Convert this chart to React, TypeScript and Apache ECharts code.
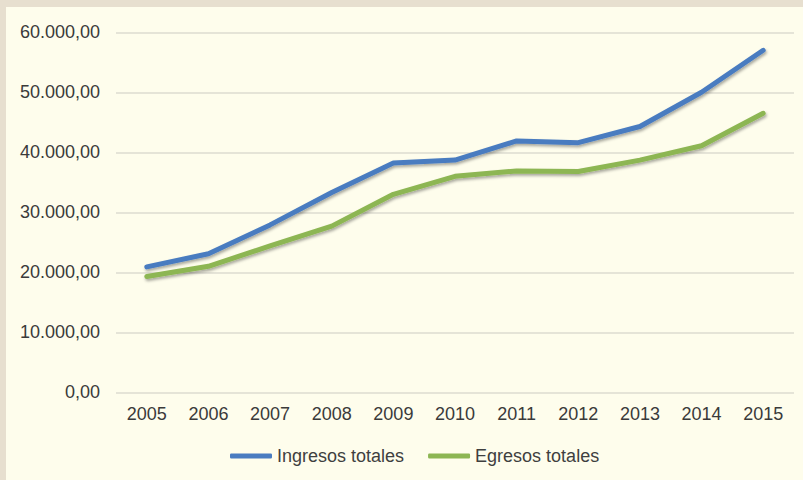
import React, { useEffect, useRef } from "react";
import * as echarts from "echarts";

const years = ["2005", "2006", "2007", "2008", "2009", "2010", "2011", "2012", "2013", "2014", "2015"];
const ingresos = [20900, 23100, 27900, 33300, 38200, 38700, 41900, 41600, 44300, 50000, 57000];
const egresos = [19300, 21000, 24400, 27700, 33000, 36000, 36900, 36800, 38700, 41100, 46500];
const seriesNames = ["Ingresos totales", "Egresos totales"];

const fmt = (v: number) => {
  const s = Math.round(v).toString().replace(/\B(?=(\d{3})+(?!\d))/g, ".");
  return s + ",00";
};

export default function App() {
  const ref = useRef<HTMLDivElement>(null);
  useEffect(() => {
    if (!ref.current) return;
    const chart = echarts.init(ref.current, null, { renderer: "svg" });
    const font = "'Liberation Sans', Arial, sans-serif";
    const shadow = {
      shadowColor: "rgba(0,0,0,0.35)",
      shadowBlur: 3,
      shadowOffsetX: 1,
      shadowOffsetY: 2,
    };
    chart.setOption({
      animation: false,
      backgroundColor: "transparent",
      textStyle: { fontFamily: font },
      grid: { left: 116, right: 9, top: 32.3, bottom: 87.7 },
      legend: {
        data: seriesNames,
        left: 225,
        top: 442,
        icon: "roundRect",
        itemWidth: 42,
        itemHeight: 5,
        itemGap: 24,
        textStyle: { fontSize: 18, color: "#3f3f3f", fontFamily: font },
      },
      xAxis: {
        type: "category",
        data: years,
        boundaryGap: true,
        axisLine: { show: false },
        axisTick: { show: false },
        axisLabel: { fontSize: 18, color: "#3a3a3a", margin: 13, fontFamily: font },
      },
      yAxis: {
        type: "value",
        min: 0,
        max: 60000,
        interval: 10000,
        axisLine: { show: false },
        axisTick: { show: false },
        splitLine: { lineStyle: { color: "#dcdbd0", width: 1.5 } },
        axisLabel: { fontSize: 18, color: "#3a3a3a", margin: 16, fontFamily: font, formatter: fmt },
      },
      series: [
        {
          name: seriesNames[0],
          type: "line",
          data: ingresos,
          symbol: "none",
          color: "#4a7cc0",
          lineStyle: { width: 5, color: "#4a7cc0", cap: "round", join: "round", ...shadow },
        },
        {
          name: seriesNames[1],
          type: "line",
          data: egresos,
          symbol: "none",
          color: "#8db653",
          lineStyle: { width: 5, color: "#8db653", cap: "round", join: "round", ...shadow },
        },
      ],
    });
    return () => chart.dispose();
  }, []);
  return (
    <div style={{ position: "fixed", left: 0, top: 0, width: 803, height: 480, background: "#e7dfcf", overflow: "hidden" }}>
      <div style={{ position: "absolute", left: 6, top: 7, width: 797, height: 473, background: "#fefdec" }} />
      <div ref={ref} style={{ position: "absolute", left: 0, top: 0, width: 803, height: 480 }} />
    </div>
  );
}
